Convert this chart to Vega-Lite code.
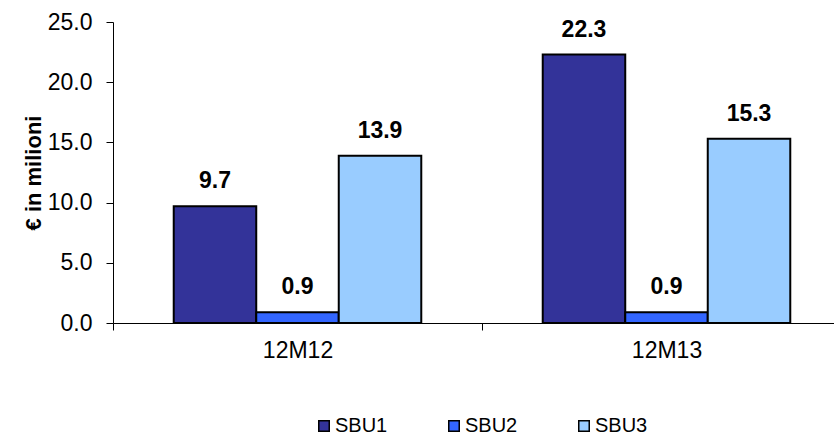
{
  "$schema": "https://vega.github.io/schema/vega-lite/v6.json",
  "width": 721,
  "height": 301,
  "autosize": {"type": "none"},
  "padding": {"left": 113, "top": 22, "right": 0, "bottom": 115},
  "background": "white",
  "config": {
    "view": {"stroke": null},
    "font": "Liberation Sans"
  },
  "data": {
    "values": [
      {"period": "12M12", "sbu": "SBU1", "value": 9.7},
      {"period": "12M12", "sbu": "SBU2", "value": 0.9},
      {"period": "12M12", "sbu": "SBU3", "value": 13.9},
      {"period": "12M13", "sbu": "SBU1", "value": 22.3},
      {"period": "12M13", "sbu": "SBU2", "value": 0.9},
      {"period": "12M13", "sbu": "SBU3", "value": 15.3}
    ]
  },
  "encoding": {
    "x": {
      "field": "period",
      "type": "nominal",
      "sort": null,
      "scale": {"range": [0, 738], "paddingInner": 0, "paddingOuter": 0},
      "axis": {
        "title": null,
        "labelAngle": 0,
        "labelFont": "Liberation Sans",
        "labelFontSize": 23,
        "labelColor": "black",
        "labelPadding": 9,
        "domainColor": "black",
        "domainWidth": 1,
        "tickColor": "black",
        "tickSize": 7,
        "tickBand": "extent"
      }
    },
    "xOffset": {
      "field": "sbu",
      "type": "nominal",
      "scale": {"paddingInner": 0, "paddingOuter": 0.736}
    },
    "y": {
      "field": "value",
      "type": "quantitative",
      "scale": {"domain": [0, 25], "nice": false},
      "axis": {
        "title": "€ in milioni",
        "titleFont": "Liberation Sans",
        "titleFontSize": 22,
        "titleFontWeight": "bold",
        "titleColor": "black",
        "titlePadding": 2,
        "values": [0, 5, 10, 15, 20, 25],
        "format": ".1f",
        "grid": false,
        "labelFont": "Liberation Sans",
        "labelFontSize": 23,
        "labelColor": "black",
        "labelPadding": 14,
        "domainColor": "black",
        "domainWidth": 1,
        "tickColor": "black",
        "tickSize": 7
      }
    }
  },
  "layer": [
    {
      "mark": {"type": "bar", "stroke": "black", "strokeWidth": 2},
      "encoding": {
        "color": {
          "field": "sbu",
          "type": "nominal",
          "scale": {
            "domain": ["SBU1", "SBU2", "SBU3"],
            "range": ["#333399", "#3366FF", "#99CCFF"]
          },
          "legend": {
            "title": null,
            "orient": "none",
            "legendX": 201,
            "legendY": 394,
            "direction": "horizontal",
            "columns": 3,
            "symbolType": "square",
            "symbolSize": 110,
            "symbolStrokeColor": "black",
            "symbolStrokeWidth": 1.5,
            "symbolOpacity": 1,
            "labelFont": "Liberation Sans",
            "labelFontSize": 20,
            "labelColor": "black",
            "labelOffset": 1,
            "columnPadding": 56
          }
        }
      }
    },
    {
      "mark": {
        "type": "text",
        "baseline": "alphabetic",
        "dy": -18,
        "font": "Liberation Sans",
        "fontSize": 23,
        "fontWeight": "bold",
        "color": "black"
      },
      "encoding": {
        "text": {"field": "value", "type": "quantitative", "format": ".1f"}
      }
    }
  ]
}
